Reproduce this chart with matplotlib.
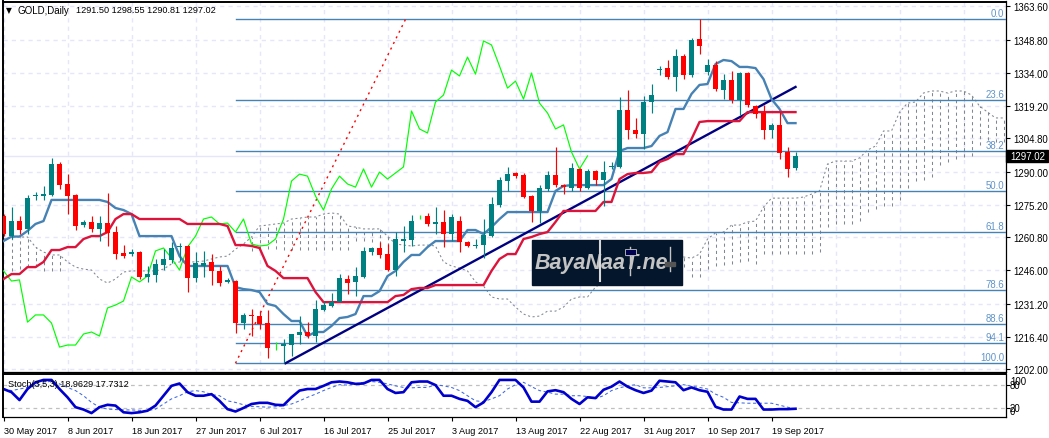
import matplotlib
matplotlib.use("Agg")
import matplotlib.pyplot as plt
from matplotlib.patches import Rectangle
from matplotlib.lines import Line2D
import numpy as np

nan = float("nan")

# daily candles
opens = [1270.2,1261.3,1268.0,1264.5,1279.1,1279.1,1279.6,1293.4,1284.5,1279.6,
         1266.2,1267.6,1264.5,1267.1,1263.1,1253.8,1253.5,1254.2,1243.1,1244.0,
         1248.4,1250.6,1256.4,1256.9,1242.6,1248.0,1249.8,1245.8,1240.9,1241.3,
         1222.6,1226.2,1225.7,1222.6,1213.0,1212.4,1212.8,1217.3,1218.6,1216.8,
         1228.4,1230.2,1231.9,1242.2,1240.9,1243.1,1254.2,1256.0,1253.3,1246.2,
         1259.1,1259.6,1269.8,1270.2,1266.7,1267.6,1262.2,1268.0,1258.7,1256.9,
         1257.3,1261.3,1275.1,1285.8,1289.4,1288.5,1279.1,1272.5,1282.3,1288.5,
         1284.0,1282.7,1291.2,1282.7,1290.3,1286.3,1292.1,1292.1,1317.4,1308.5,
         1306.8,1321.0,1335.2,1336.1,1332.1,1341.5,1333.0,1349.0,1334.3,1337.5,
         1326.3,1330.8,1321.9,1333.9,1319.2,1316.1,1308.5,1310.8,1298.7,1291.50]
highs = [1271.1,1274.2,1270.2,1279.6,1280.9,1283.6,1296.1,1294.3,1288.9,1280.0,
         1268.5,1270.2,1270.2,1280.5,1265.8,1257.3,1255.5,1254.7,1248.0,1251.1,
         1255.5,1258.7,1258.2,1257.3,1254.2,1254.7,1253.3,1248.0,1242.6,1241.8,
         1227.1,1228.8,1227.9,1228.4,1214.1,1215.5,1217.7,1225.7,1223.0,1232.8,
         1232.4,1236.0,1244.4,1244.0,1247.5,1256.4,1256.4,1258.7,1257.8,1263.1,
         1265.8,1270.7,1270.7,1271.6,1274.2,1272.9,1271.1,1270.2,1259.1,1260.0,
         1268.9,1278.7,1287.6,1292.1,1289.8,1289.4,1279.6,1284.0,1290.3,1301.0,
         1284.5,1293.8,1291.6,1291.2,1290.7,1294.7,1294.3,1323.2,1326.3,1313.9,
         1323.7,1329.0,1337.0,1339.7,1344.6,1342.4,1349.5,1358.0,1340.1,1339.2,
         1333.4,1334.8,1334.3,1334.3,1319.7,1319.7,1311.6,1316.5,1301.0,1298.55]
lows = [1261.3,1260.0,1262.2,1262.2,1277.4,1277.4,1279.1,1282.3,1271.1,1264.0,
        1265.3,1263.1,1259.1,1256.9,1251.1,1251.5,1252.4,1242.2,1240.9,1240.9,
        1246.2,1249.3,1250.2,1236.4,1240.9,1243.1,1239.5,1239.1,1240.4,1218.2,
        1219.9,1216.8,1219.9,1207.0,1210.6,1204.8,1207.9,1213.3,1215.9,1214.1,
        1227.9,1229.7,1231.9,1235.5,1234.6,1242.6,1252.9,1251.5,1245.8,1243.5,
        1254.2,1256.9,1268.9,1265.8,1262.2,1256.4,1259.1,1254.2,1256.4,1256.0,
        1251.5,1260.9,1274.2,1281.4,1287.2,1278.2,1267.6,1267.1,1281.4,1283.1,
        1280.0,1281.4,1281.4,1282.3,1284.0,1274.7,1291.2,1291.6,1304.5,1305.0,
        1300.1,1316.1,1333.0,1331.2,1325.9,1331.2,1332.1,1342.4,1333.0,1325.9,
        1322.3,1320.5,1315.2,1318.8,1313.9,1304.5,1305.0,1295.6,1287.6,1290.81]
closes = [1262.2,1268.0,1264.0,1278.2,1279.6,1280.0,1293.4,1284.0,1279.1,1265.8,
          1267.6,1264.5,1267.1,1262.7,1253.3,1252.4,1254.2,1243.1,1244.4,1248.9,
          1251.1,1256.0,1256.9,1242.6,1249.3,1249.3,1245.8,1240.4,1241.8,1222.6,
          1226.2,1225.7,1222.2,1211.5,1213.0,1213.3,1217.7,1218.6,1216.8,1228.8,
          1230.6,1231.9,1242.6,1240.4,1243.5,1254.7,1256.0,1252.9,1246.2,1260.0,
          1260.0,1268.0,1269.8,1266.7,1267.6,1262.2,1269.8,1258.7,1256.9,1257.3,
          1261.8,1275.6,1286.3,1288.9,1288.0,1278.7,1272.5,1282.7,1288.5,1284.0,
          1283.1,1291.6,1282.7,1290.3,1286.3,1289.8,1292.5,1317.4,1308.5,1306.8,
          1321.0,1324.1,1335.7,1332.1,1341.5,1333.0,1348.6,1345.9,1337.5,1326.8,
          1330.8,1321.9,1333.9,1319.7,1315.6,1308.5,1310.8,1298.3,1291.2,1297.02]

tenkan = [1259.1,1261.1,1261.1,1263.6,1266.7,1268.0,1277.4,1277.4,1277.4,1277.4,
          1277.4,1277.4,1277.4,1276.5,1273.8,1272.9,1271.1,1261.3,1261.3,1261.3,
          1261.3,1261.3,1252.4,1248.0,1248.0,1248.0,1248.0,1248.0,1248.0,1238.6,
          1237.7,1237.3,1236.4,1231.1,1230.2,1226.6,1223.5,1223.5,1216.8,1218.6,
          1218.6,1221.3,1224.8,1225.3,1226.6,1234.6,1234.6,1236.8,1243.5,1245.8,
          1249.8,1252.9,1252.9,1256.4,1259.1,1259.1,1259.1,1259.1,1264.0,1264.0,
          1262.2,1265.3,1268.9,1272.0,1272.0,1272.0,1272.0,1272.0,1272.0,1281.4,
          1283.6,1284.0,1284.0,1284.0,1284.0,1284.0,1286.7,1299.2,1300.5,1300.5,
          1300.5,1301.4,1305.9,1307.6,1317.9,1317.9,1324.6,1328.6,1329.0,1337.9,
          1339.7,1339.2,1336.6,1336.6,1336.1,1331.2,1322.3,1317.9,1311.6,1311.6]
kijun = [1242.2,1244.4,1244.4,1247.5,1247.5,1249.8,1255.1,1255.1,1256.4,1256.4,
         1260.0,1261.3,1261.3,1263.1,1268.9,1271.1,1271.1,1268.9,1268.9,1268.9,
         1268.9,1268.9,1268.9,1266.7,1266.7,1266.7,1266.7,1266.7,1265.8,1257.3,
         1257.3,1256.9,1256.0,1248.0,1245.8,1242.6,1242.6,1242.6,1242.6,1236.4,
         1231.9,1231.9,1231.9,1231.9,1231.9,1231.9,1231.9,1231.9,1231.9,1234.6,
         1235.1,1237.7,1238.2,1238.2,1239.5,1239.5,1239.5,1239.5,1239.5,1239.5,
         1239.5,1245.8,1251.1,1253.3,1253.3,1260.0,1260.9,1262.2,1263.1,1267.6,
         1272.5,1272.5,1272.5,1272.5,1272.5,1276.5,1276.5,1286.7,1288.9,1289.4,
         1289.4,1289.8,1294.3,1295.6,1297.8,1297.8,1304.5,1312.1,1312.5,1312.5,
         1312.5,1312.5,1312.5,1316.5,1316.5,1316.5,1316.5,1316.5,1316.5,1316.5]
chikou = [1245.8,1241.3,1241.8,1223.0,1226.2,1226.2,1222.6,1211.9,1212.8,1212.8,
          1217.7,1218.6,1216.8,1229.3,1230.6,1232.4,1243.1,1240.9,1243.5,1254.7,
          1256.0,1251.5,1246.2,1256.4,1261.3,1268.9,1269.8,1266.7,1267.1,1263.1,
          1268.9,1257.8,1256.9,1257.3,1260.0,1268.9,1285.8,1288.9,1288.0,1279.1,
          1272.9,1282.3,1288.0,1284.5,1283.1,1291.2,1283.1,1289.8,1286.7,1289.4,
          1292.1,1317.0,1309.0,1307.2,1321.0,1324.1,1335.2,1332.6,1341.0,1333.4,
          1348.2,1346.4,1337.0,1327.2,1330.3,1322.3,1333.9,1320.5,1316.1,1309.0,
          1310.8,1298.7,1291.2,1297.0]
span_a = [1260.0,1260.9,1260.9,1260.9,1256.4,1254.2,1252.9,1252.9,1249.8,1247.5,
          1246.6,1246.2,1242.2,1240.4,1242.2,1245.3,1245.8,1245.8,1245.8,1245.8,
          1246.6,1248.9,1249.8,1249.8,1249.8,1250.2,1251.1,1252.0,1252.4,1255.5,
          1257.8,1260.9,1265.8,1266.2,1266.7,1267.1,1268.9,1269.3,1269.8,1269.8,
          1271.1,1271.6,1271.1,1265.8,1265.3,1264.5,1264.5,1264.5,1261.3,1257.8,
          1257.3,1256.9,1257.3,1257.3,1256.9,1249.8,1248.0,1247.1,1245.8,1240.9,
          1239.1,1234.2,1233.3,1233.3,1229.7,1226.6,1225.3,1225.7,1227.9,1227.9,
          1229.7,1233.3,1234.2,1234.2,1238.6,1240.9,1243.1,1245.8,1247.5,1248.9,
          1250.2,1251.1,1251.5,1252.0,1252.0,1252.0,1251.5,1253.3,1260.0,1262.7,
          1263.1,1266.2,1266.2,1267.6,1268.0,1274.2,1278.2,1278.2,1278.2,1278.2,
          1278.7,1280.0,1281.4,1293.4,1294.7,1294.7,1294.7,1296.1,1299.6,1301.4,
          1308.1,1308.1,1316.5,1320.5,1321.0,1325.0,1325.9,1325.9,1325.0,1325.9,
          1325.9,1324.1,1319.2,1316.5,1313.9,1313.9]
# span b is only readable where the hatching shows it
span_b = [nan,1245.8,1246.6,1247.5,1247.5,1245.8,1245.8,1245.8,nan,nan,
          nan,nan,nan,nan,nan,nan,nan,nan,nan,nan,
          nan,nan,nan,nan,nan,nan,nan,nan,nan,nan,
          nan,1254.7,1255.5,1255.5,1255.5,1255.1,1255.1,1255.1,1255.1,1255.1,
          1255.1,1255.1,1255.1,1255.1,1259.1,1259.1,1258.7,1257.8,1256.9,nan,
          nan,nan,nan,nan,nan,nan,nan,nan,nan,nan,
          nan,nan,nan,nan,nan,nan,nan,nan,nan,nan,
          nan,nan,nan,nan,nan,nan,nan,nan,nan,nan,
          nan,nan,nan,nan,nan,1247.5,1243.1,1243.1,1246.6,1248.0,
          1248.4,1248.9,1249.8,1250.2,1248.9,1253.3,1253.3,1253.3,1253.3,1253.3,
          1253.3,1253.3,1254.2,1265.3,1266.7,1266.7,1266.7,1268.0,1272.0,1273.4,
          1274.7,1274.7,1277.4,1282.7,1285.8,1286.3,1287.6,1292.9,1294.3,1295.6,
          1296.5,1297.0,1301.9,1304.1,1303.2,1303.2]

stoch_main = [69,61,41,69,86,92,92,69,48,23,17,8,23,29,27,10,8,10,14,27,
              52,77,83,61,52,52,56,39,18,12,21,31,34,34,29,28,48,65,69,69,
              77,86,88,86,82,83,92,92,69,59,61,86,88,88,79,52,52,44,39,23,
              35,61,92,92,92,73,37,37,63,66,61,44,31,48,46,67,75,88,75,66,
              59,65,90,88,86,66,73,66,62,24,17,17,50,44,44,17,17,18,18,18.96]
stoch_signal = [69,65,69,73,77,83,90,82,73,65,52,35,23,18,17,16,16,15,14,18,
                31,44,52,62,65,62,55,52,39,35,29,25,24,23,24,27,31,39,48,56,
                65,73,80,79,82,86,88,86,82,77,73,72,73,73,80,77,73,65,52,39,
                37,44,52,69,80,86,75,65,61,56,56,52,52,50,45,52,65,72,77,80,
                72,72,73,75,77,80,76,73,69,56,48,35,34,33,33,33,33,28,23,17.73]

fib_pcts = [0.0, 23.6, 38.2, 50.0, 61.8, 78.6, 88.6, 94.1, 100.0]
fib_high = 1357.8
fib_low = 1204.7
fib_bars = [29, 50.25]
trend_bars = [35.25, 99]
trend_prices = [1204.7, 1327.7]
last_price = 1297.02

price_ticks = [1363.60,1348.80,1334.00,1319.20,1304.80,1290.00,1275.20,1260.80,1246.00,1231.20,1216.40,1202.00]
date_labels = ["30 May 2017","8 Jun 2017","18 Jun 2017","27 Jun 2017","6 Jul 2017","16 Jul 2017","25 Jul 2017",
               "3 Aug 2017","13 Aug 2017","22 Aug 2017","31 Aug 2017","10 Sep 2017","19 Sep 2017"]

plt.rcParams['font.family'] = ['Liberation Sans', 'DejaVu Sans']
W, H = 1049, 439

# pixel box -> figure fraction
def box(x0, y0, x1, y1):
    return [x0/W, 1-y1/H, (x1-x0)/W, (y1-y0)/H]

fig = plt.figure(figsize=(W/100, H/100), dpi=100)
ax = fig.add_axes(box(2.5, 2.5, 1006, 372.7))
ax2 = fig.add_axes(box(2.5, 375.3, 1006, 418.3))

xlim = (-0.125, 125.31)
bars = np.arange(len(opens))
grid_c = '#e6e6fa'
steel = '#4682b4'

ax.set_xlim(xlim)
ax.set_ylim(1200.93, 1365.74)
ax.set_xticks(np.arange(0, 126, 8))
ax.tick_params(axis='x', length=0, labelbottom=False)
ax.yaxis.tick_right()
ax.set_yticks(price_ticks)
ax.set_yticklabels(["%.2f" % p for p in price_ticks], fontsize=6.9, color='black')
ax.tick_params(axis='y', length=3, width=0.8, pad=2)
ax.grid(True, color=grid_c, lw=1, ls=(0, (3, 3)), zorder=0)
ax.set_axisbelow(True)
ax.axhline(last_price, color=grid_c, lw=1, zorder=1)

# ichimoku cloud
a = np.array(span_a)
b = np.array(span_b)
cloud_x = np.arange(len(a))
ok = ~np.isnan(b)
ax.vlines(cloud_x[ok], b[ok], a[ok], color='#808890', lw=0.75, ls=(0, (3, 3)), zorder=2)
ax.plot(cloud_x, a, color='#808890', lw=0.75, ls=(0, (2, 2.5)), zorder=2)

# fibo levels
for pct in fib_pcts:
    lev = fib_high - (fib_high-fib_low)*pct/100
    ax.plot([fib_bars[0], xlim[1]], [lev, lev], color=steel, lw=1.0, zorder=3)
    ax.text(0.9985, lev+0.5, "%.1f" % pct, transform=ax.get_yaxis_transform(), ha='right', va='bottom',
            fontsize=6.9, color='#5f94c8', zorder=3)
ax.plot(fib_bars, [fib_low, fib_high], color='red', lw=1.0, ls=(0, (1.5, 3)), zorder=3)
ax.plot(trend_bars, trend_prices, color='#000080', lw=1.7, zorder=3.5)

# indicator lines
ax.plot(np.arange(len(chikou)), chikou, color='#00ff00', lw=0.85, zorder=4)
ax.plot(bars, tenkan, color=steel, lw=1.7, zorder=4)
ax.plot(bars, kijun, color='#dc143c', lw=1.7, zorder=4)

# candles
op = np.array(opens)
cl = np.array(closes)
colors = np.where(cl > op, '#008080', '#ff0000')
colors[cl == op] = '#00ff00'
ax.vlines(bars, lows, highs, colors=list(colors), lw=0.85, zorder=5)
ax.bar(bars, np.abs(cl-op), bottom=np.minimum(op, cl), width=0.6, color=list(colors), lw=0, zorder=5)

# last price box
ax.add_patch(Rectangle((1.0, last_price-2.8), 0.042, 5.6, transform=ax.get_yaxis_transform(),
                       color='black', clip_on=False, zorder=6))
ax.text(1.0045, last_price, "%.2f" % last_price, transform=ax.get_yaxis_transform(), color='white',
        fontsize=6.9, va='center', ha='left', clip_on=False, zorder=7)

# stochastic panel
ax2.set_xlim(xlim)
ax2.set_ylim(-2.7, 106.3)
ax2.axhline(80, color='#c0c0c0', lw=0.9, ls=(0, (3, 3)))
ax2.axhline(20, color='#c0c0c0', lw=0.9, ls=(0, (3, 3)))
ax2.plot(bars, stoch_signal, color='#4169e1', lw=0.75, ls=(0, (3, 2.5)))
ax2.plot(bars, stoch_main, color='#0000cd', lw=1.9)
ax2.yaxis.tick_right()
ax2.set_yticks([80, 20])
ax2.set_yticklabels([])
ax2.tick_params(axis='y', length=3, width=0.8)
ax2.set_xticks(np.arange(len(date_labels))*8)
ax2.set_xticklabels(date_labels, ha='left', fontsize=6.6, color='black')
ax2.tick_params(axis='x', length=3, width=0.8, pad=3)
for val, ypos in [("100", 88.8), ("80", 80), ("20", 20), ("0", 13.3)]:
    ax2.text(1.004, ypos, val, transform=ax2.get_yaxis_transform(), fontsize=6.9, va='center', clip_on=False)

for a_ in (ax, ax2):
    for side in ('left', 'top'):
        a_.spines[side].set_linewidth(1.4)
    for side in ('right', 'bottom'):
        a_.spines[side].set_linewidth(0.9)

# header texts
fig.text(6/W, 1-10.5/H, "\u25bc", fontsize=5.5, family='DejaVu Sans', va='center')
fig.text(18/W, 1-10.5/H, "GOLD,Daily", fontsize=7, va='center')
fig.text(75.5/W, 1-10.5/H, "1291.50 1298.55 1290.81 1297.02", fontsize=6.6, va='center')
fig.text(8/W, 1-385/H, "Stoch(3,5,3) 18.9629 17.7312", fontsize=6.6, va='center')

# watermark logo
fig.patches.append(Rectangle((532/W, 1-286/H), 150/W, 45/H, transform=fig.transFigure, color='#04162b', zorder=10))
fig.text(535/W, 1-264/H, "BayaNaaT.ne", fontsize=15.5, style='italic', weight='bold', color='#c4c4c4', va='center', zorder=11)
for x0, y0, x1, y1, c, lw in [(600, 242, 600, 282, '#d8d8d8', 1.5), (630, 248, 630, 276, '#c4c4c4', 1.0),
                              (670, 248, 670, 272, '#c4c4c4', 1.0)]:
    fig.add_artist(Line2D([x0/W, x1/W], [1-y0/H, 1-y1/H], color=c, lw=lw, zorder=12))
fig.patches.append(Rectangle((625/W, 1-256/H), 11/W, 6/H, transform=fig.transFigure, facecolor='#000050',
                             edgecolor='#c4c4c4', lw=0.6, zorder=12))
fig.patches.append(Rectangle((665/W, 1-267/H), 10/W, 4/H, transform=fig.transFigure, color='#555555', zorder=12))

fig.savefig('out.png', dpi=100)
